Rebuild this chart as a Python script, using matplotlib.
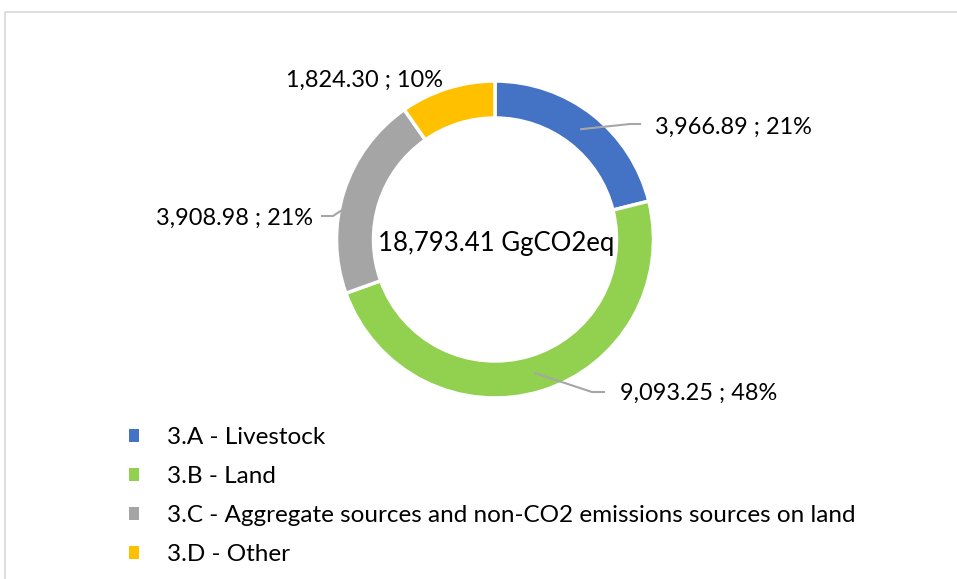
import matplotlib
matplotlib.use("Agg")
import matplotlib.pyplot as plt
import numpy as np
from matplotlib.patches import Rectangle

categories = ["3.A - Livestock", "3.B - Land",
              "3.C - Aggregate sources and non-CO2 emissions sources on land",
              "3.D - Other"]
values = [3966.89, 9093.25, 3908.98, 1824.30]
center_label = "18,793.41 GgCO2eq"
colors = ["#4472C4", "#92D050", "#A5A5A5", "#FFC000"]

W, H = 957, 579
FONT = "Lato"
plt.rcParams['font.family'] = [FONT, 'DejaVu Sans']

fig = plt.figure(figsize=(W / 100, H / 100), dpi=100)
ax = fig.add_axes([0, 0, 1, 1])

cx, cy = 495, H - 239.5
R = 158.5
ring = 37
wedges, _ = ax.pie(values, colors=colors, startangle=90, counterclock=False,
                   center=(cx, cy), radius=R,
                   wedgeprops=dict(width=ring, edgecolor="white", linewidth=2.5))
ax.set_xlim(0, W)
ax.set_ylim(0, H)
ax.set_aspect("equal")
ax.axis("off")

# chart border
ax.add_patch(Rectangle((5, -10), W + 20, H - 12 + 10, fill=False,
                       edgecolor="#D9D9D9", linewidth=1.2, zorder=0))

total = sum(values)
# label placement (pixel coords from top): text anchor x, y, ha, leader elbow/end points
label_pos = [(655, 127, "left"), (620, 393, "left"), (313, 218, "right"), (365, 80, "center")]
leaders = [[(630, 124), (640, 124)],
           [(592, 392), (604, 392)],
           [(333, 216), (322, 216)],
           None]

for i, (w, v) in enumerate(zip(wedges, values)):
    pct = v / total * 100
    txt = f"{v:,.2f} ; {pct:.0f}%"
    x, y, ha = label_pos[i]
    ax.text(x, H - y, txt, ha=ha, va="center", fontsize=16.9, color="#000000")
    if leaders[i] is not None:
        ang = np.deg2rad((w.theta1 + w.theta2) / 2)
        rm = R - ring / 2
        pts = [(cx + rm * np.cos(ang), cy + rm * np.sin(ang))]
        pts += [(px, H - py) for px, py in leaders[i]]
        xs, ys = zip(*pts)
        ax.plot(xs, ys, color="#A6A6A6", linewidth=1.5, zorder=5)

ax.text(cx + 1, H - 243, center_label, ha="center", va="center", fontsize=18.5, color="#000000")

leg = fig.legend(wedges, categories, loc="upper left",
                 bbox_to_anchor=(129 / W, 1 - 427 / H), frameon=False,
                 fontsize=17.5, handlelength=0.42, handleheight=0.42,
                 handletextpad=1.15, labelspacing=0.74, borderpad=0,
                 borderaxespad=0)
for h in leg.legend_handles:
    h.set_edgecolor("none")
    h.set_linewidth(0)

fig.savefig("out.png", dpi=100)
